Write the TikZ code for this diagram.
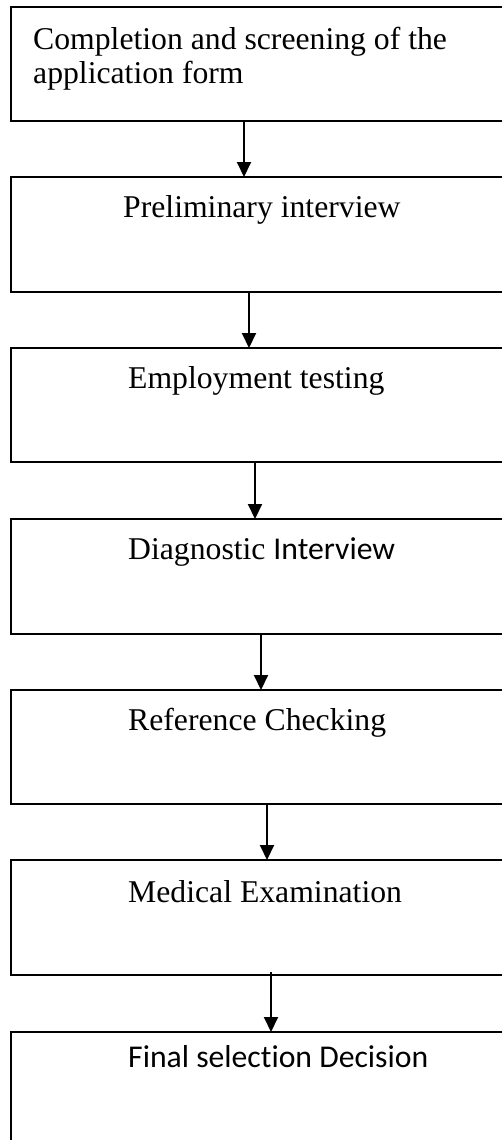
\documentclass[tikz,border=0pt]{standalone}
\usepackage{fontspec}
\setmainfont{Liberation Serif}
\newfontfamily\calfont[Ligatures=NoCommon]{Carlito}
\usetikzlibrary{arrows.meta,calc}
\tikzset{
  box/.style={draw=black, line width=2pt, minimum width=520pt, minimum height=114pt, anchor=north west, inner sep=0pt, outer sep=0pt},
  lbl/.style={anchor=base west, inner sep=0pt, font=\fontsize{31.7}{33}\selectfont},
  arr/.style={line width=2pt, -{Triangle[width=14pt,length=15pt]}}
}
\begin{document}
\begin{tikzpicture}
\useasboundingbox (0,0) rectangle (502pt,-1140pt);
\clip (0,0) rectangle (502pt,-1140pt);
\node[box, minimum height=114pt] (b1) at (11pt,-7pt) {};
\node[box, minimum height=115pt] (b2) at (11pt,-177pt) {};
\node[box, minimum height=114pt] (b3) at (11pt,-348pt) {};
\node[box, minimum height=115pt] (b4) at (11pt,-519pt) {};
\node[box, minimum height=114pt] (b5) at (11pt,-690pt) {};
\node[box, minimum height=115pt] (b6) at (11pt,-860pt) {};
\node[box, minimum height=130pt] (b7) at (11pt,-1032pt) {};
\node[lbl] (t1a) at (33pt,-50pt) {Completion and screening of the};
\node[lbl] (t1b) at (33pt,-83pt) {application form};
\node[lbl] (t2) at (123pt,-217pt) {Preliminary interview};
\node[lbl] (t3) at (128pt,-388pt) {Employment testing};
\node[lbl] (t4) at (128pt,-559pt) {Diagnostic {\calfont Interview}};
\node[lbl] (t5) at (128pt,-730pt) {Reference Checking};
\node[lbl] (t6) at (128pt,-902pt) {Medical Examination};
\node[lbl] (t7) at (128pt,-1067pt) {\calfont Final selection Decision};
\draw[arr] ($(b1.south west)+(233pt,0)$) -- ($(b2.north west)+(233pt,0)$);
\draw[arr] ($(b2.south west)+(238pt,0)$) -- ($(b3.north west)+(238pt,0)$);
\draw[arr] ($(b3.south west)+(244pt,0)$) -- ($(b4.north west)+(244pt,0)$);
\draw[arr] ($(b4.south west)+(250pt,0)$) -- ($(b5.north west)+(250pt,0)$);
\draw[arr] ($(b5.south west)+(256pt,0)$) -- ($(b6.north west)+(256pt,0)$);
\draw[arr] ($(b6.south west)+(260pt,3pt)$) -- ($(b7.north west)+(260pt,0)$);
\end{tikzpicture}
\end{document}
